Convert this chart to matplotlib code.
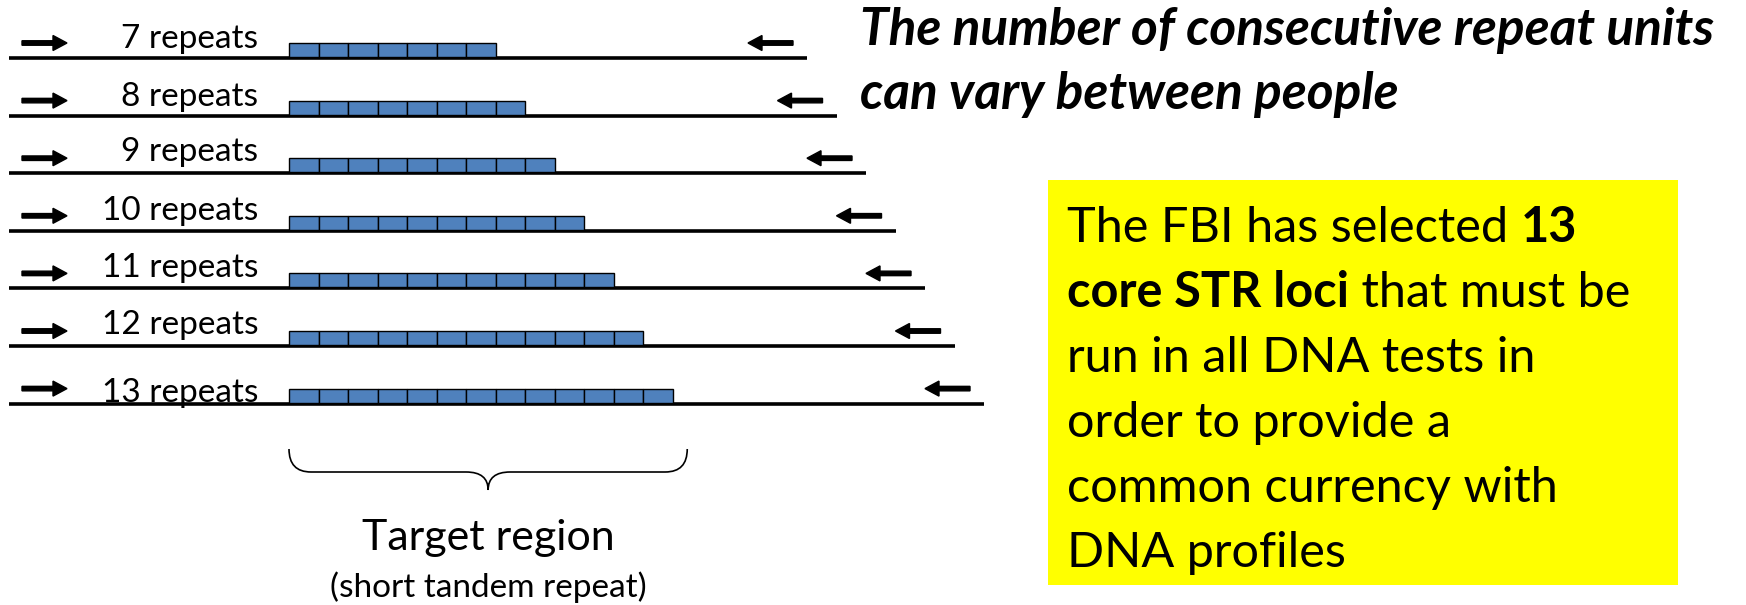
import matplotlib
matplotlib.use("Agg")
import matplotlib.pyplot as plt
from matplotlib.patches import Rectangle, FancyArrow, PathPatch
from matplotlib.path import Path

# data
repeats = [7, 8, 9, 10, 11, 12, 13]
labels = [f"{n} repeats" for n in repeats]
title_lines = ["The number of consecutive repeat units", "can vary between people"]
box_lines = [
    [("The FBI has selected ", "normal"), ("13", "bold")],
    [("core STR loci", "bold"), (" that must be", "normal")],
    [("run in all DNA tests in", "normal")],
    [("order to provide a", "normal")],
    [("common currency with", "normal")],
    [("DNA profiles", "normal")],
]
target_label = "Target region"
target_sub = "(short tandem repeat)"

# layout (pixel units, y down)
W, H = 1746, 605
row_y0, row_dy = 58, 57.6
unit_w = 29.5
box_x0 = 289
line_x0 = 9
line_end0 = 807   # end of line for 7 repeats
label_dy = [-19, -19, -21, -20, -20, -21, -11]

FONT = "Lato"
BLUE = "#4F81BD"

fig = plt.figure(figsize=(W / 100, H / 100), dpi=100)
ax = fig.add_axes([0, 0, 1, 1])
ax.set_xlim(0, W)
ax.set_ylim(H, 0)
ax.axis("off")

for i, n in enumerate(repeats):
    y = row_y0 + i * row_dy
    extra = (n - repeats[0]) * unit_w
    line_end = line_end0 + extra
    ax.plot([line_x0, line_end], [y, y], color="black", lw=2.6,
            solid_capstyle="butt", zorder=2)
    # repeat units
    for k in range(n):
        ax.add_patch(Rectangle((box_x0 + k * unit_w, y - 15), unit_w, 14,
                               facecolor=BLUE, edgecolor="black", lw=1.0, zorder=3))
    # primers
    ay = y - 15
    ax.add_patch(FancyArrow(22, ay, 45, 0, width=4.5, head_width=15, head_length=14,
                            length_includes_head=True, color="black", zorder=3))
    ax.add_patch(FancyArrow(line_end - 14, ay, -45, 0, width=4.5, head_width=15,
                            head_length=14, length_includes_head=True,
                            color="black", zorder=3))
    ax.text(258, y + label_dy[i], labels[i], ha="right", va="center",
            fontsize=24, family=FONT)

# brace under the target region
bx0 = box_x0
bx1 = box_x0 + 13.5 * unit_w
bm = (bx0 + bx1) / 2
top, mid, tip = 449, 472, 490
r = 22
verts = [(bx0, top), (bx0, mid), (bx0 + r, mid),
         (bm - r, mid), (bm, mid), (bm, tip),
         (bm, mid), (bm + r, mid),
         (bx1 - r, mid), (bx1, mid), (bx1, top)]
codes = [Path.MOVETO, Path.CURVE3, Path.CURVE3,
         Path.LINETO, Path.CURVE3, Path.CURVE3,
         Path.CURVE3, Path.CURVE3,
         Path.LINETO, Path.CURVE3, Path.CURVE3]
ax.add_patch(PathPatch(Path(verts, codes), facecolor="none", edgecolor="black", lw=1.2))

ax.text(bm, 538, target_label, ha="center", va="center", fontsize=31, family=FONT)
ax.text(bm, 587, target_sub, ha="center", va="center", fontsize=24, family=FONT)

# title
for j, t in enumerate(title_lines):
    ax.text(860, 31 + j * 64, t, ha="left", va="center", fontsize=37,
            family=FONT, style="italic", weight="bold")

# yellow note box
ax.add_patch(Rectangle((1048, 180), 630, 405, facecolor="#FFFF00",
                       edgecolor="none", zorder=1))
for j, parts in enumerate(box_lines):
    y = 242 + j * 65
    prev = None
    for txt, wt in parts:
        if prev is None:
            prev = ax.text(1067, y, txt, ha="left", va="baseline", fontsize=35,
                           family=FONT, weight=wt, zorder=4)
        else:
            prev = ax.annotate(txt, xy=(1, 0), xycoords=prev, ha="left",
                               va="bottom", fontsize=35, family=FONT,
                               weight=wt, zorder=4)

fig.savefig("out.png", dpi=100)
